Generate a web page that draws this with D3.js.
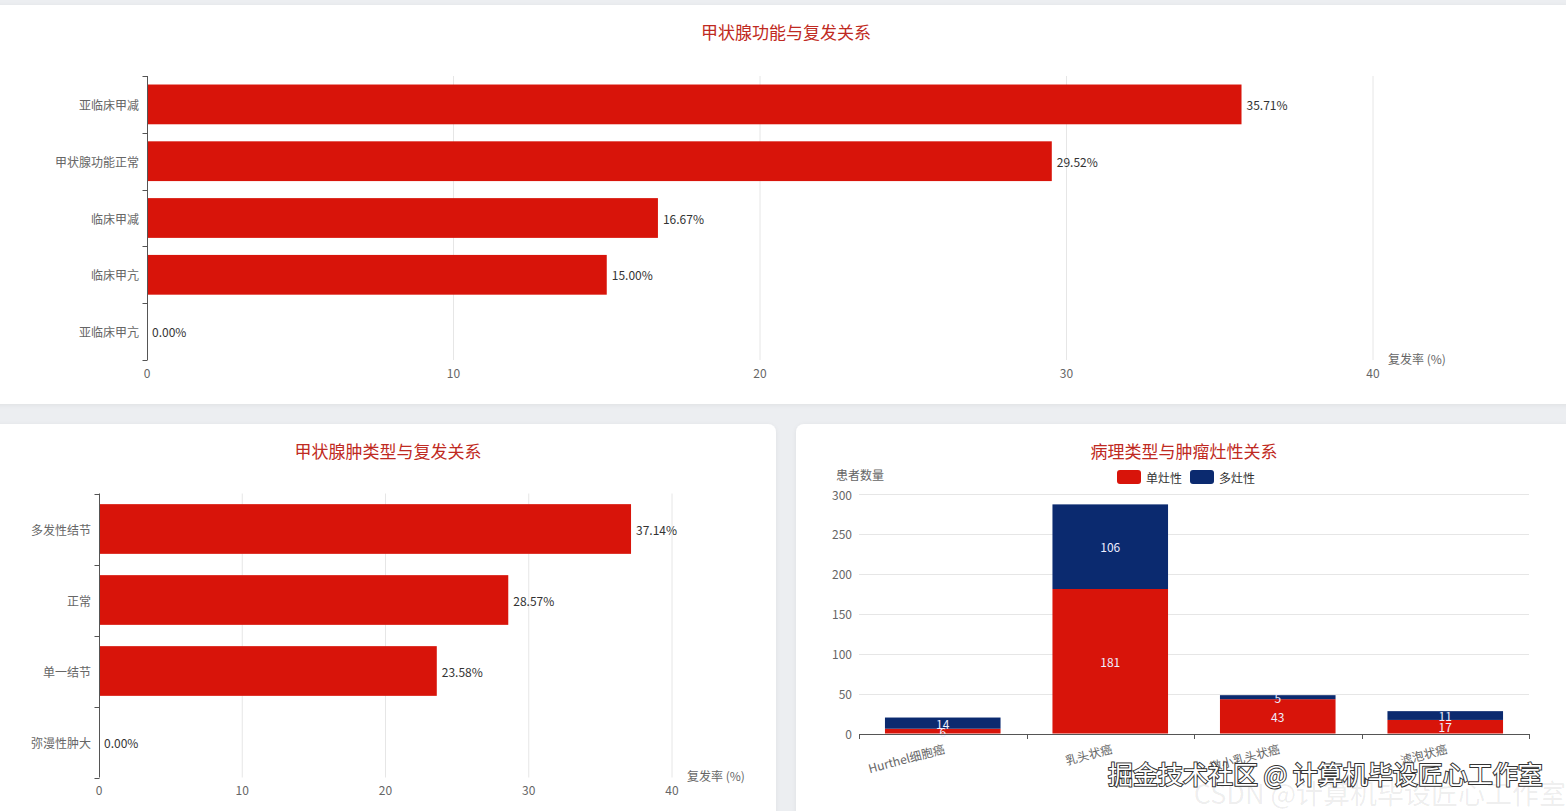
<!DOCTYPE html>
<html><head><meta charset="utf-8">
<script src="https://cdn.jsdelivr.net/npm/d3@7"></script>
<style>
html,body{margin:0;padding:0;background:#eceef1;overflow:hidden;}
svg{display:block;font-family:"Noto Sans CJK SC","Microsoft YaHei",sans-serif;}
</style></head><body>
<svg id="c" width="1566" height="811"></svg>
<script>
// ---- data ----
const funcCategories = ["亚临床甲减","甲状腺功能正常","临床甲减","临床甲亢","亚临床甲亢"];
const funcRates = [35.71, 29.52, 16.67, 15.00, 0.00];
const goiterCategories = ["多发性结节","正常","单一结节","弥漫性肿大"];
const goiterRates = [37.14, 28.57, 23.58, 0.00];
const pathCategories = ["Hurthel细胞癌","乳头状癌","微小乳头状癌","滤泡状癌"];
const unifocal = [6, 181, 43, 17];
const multifocal = [14, 106, 5, 11];
const seriesNames = ["单灶性","多灶性"];
const rateTicks = [0,10,20,30,40];
const countTicks = [0,50,100,150,200,250,300];

const RED = "#d8140a", BLUE = "#0b2a6f", TITLE = "#bf2a22";
const svg = d3.select("#c");

// cards
const defs = svg.append("defs");
const f = defs.append("filter").attr("id","sh").attr("x","-5%").attr("y","-5%").attr("width","110%").attr("height","110%");
f.append("feDropShadow").attr("dx",0).attr("dy",1).attr("stdDeviation",2).attr("flood-color","#000").attr("flood-opacity",0.06);
[[-10,5,1586,399],[-10,424,786,400],[796,424,780,400]].forEach(([x,y,w,h])=>{
  svg.append("rect").attr("x",x).attr("y",y).attr("width",w).attr("height",h).attr("rx",8).attr("fill","#fff").attr("filter","url(#sh)");
});

function title(x,y,t){
  svg.append("text").attr("x",x).attr("y",y).attr("text-anchor","middle").attr("dominant-baseline","central")
    .attr("font-size",17).attr("fill",TITLE).text(t);
}

function hbar(cats, vals, x0, x1, y0, y1, axisName, nameX){
  const x = d3.scaleLinear().domain([0,40]).range([x0,x1]);
  const y = d3.scaleBand().domain(cats).range([y0,y1]).padding(0);
  const g = svg.append("g");
  g.selectAll(".gl").data(rateTicks.slice(1)).join("line")
    .attr("x1",d=>x(d)).attr("x2",d=>x(d)).attr("y1",y0).attr("y2",y1)
    .attr("stroke","#e6e6e6").attr("stroke-width",1);
  g.selectAll(".xl").data(rateTicks).join("text")
    .attr("x",d=>x(d)).attr("y",y1+12).attr("text-anchor","middle").attr("dominant-baseline","central")
    .attr("font-size",12).attr("fill","#666").text(d=>d);
  const bw = y.bandwidth()*0.7;
  g.selectAll(".b").data(cats).join("rect")
    .attr("x",x(0)).attr("y",d=>y(d)+(y.bandwidth()-bw)/2)
    .attr("width",(d,i)=>x(vals[i])-x(0)).attr("height",bw).attr("fill",RED);
  g.selectAll(".vl").data(cats).join("text")
    .attr("x",(d,i)=>x(vals[i])+5).attr("y",d=>y(d)+y.bandwidth()/2).attr("dominant-baseline","central")
    .attr("font-size",12).attr("fill","#333").text((d,i)=>vals[i].toFixed(2)+"%");
  const ag = g.append("g").attr("transform",`translate(${x0},0)`);
  ag.append("line").attr("x1",0.5).attr("x2",0.5).attr("y1",y0).attr("y2",y1).attr("stroke","#555");
  ag.selectAll(".tk").data(d3.range(cats.length+1)).join("line")
    .attr("x1",0.5).attr("x2",-4.5).attr("y1",i=>Math.round(y0+i*y.step())+0.5).attr("y2",i=>Math.round(y0+i*y.step())+0.5)
    .attr("stroke","#555");
  ag.selectAll(".yl").data(cats).join("text")
    .attr("x",-8).attr("y",d=>y(d)+y.bandwidth()/2).attr("text-anchor","end").attr("dominant-baseline","central")
    .attr("font-size",12).attr("fill","#666").text(d=>d);
  g.append("text").attr("x",nameX).attr("y",y1-2).attr("dominant-baseline","central")
    .attr("font-size",12).attr("fill","#666").text(axisName);
}

title(786,31,"甲状腺功能与复发关系");
hbar(funcCategories, funcRates, 147, 1373, 76, 360, "复发率 (%)", 1388);

title(388,450,"甲状腺肿类型与复发关系");
hbar(goiterCategories, goiterRates, 99, 672, 493.5, 777.5, "复发率 (%)", 687);

title(1184,450,"病理类型与肿瘤灶性关系");
(function(){
  const x = d3.scaleBand().domain(pathCategories).range([859,1529]).padding(0);
  const y = d3.scaleLinear().domain([0,300]).range([733.5,494]);
  const g = svg.append("g");
  g.selectAll(".gl").data(countTicks.slice(1)).join("line")
    .attr("x1",859).attr("x2",1529).attr("y1",d=>Math.round(y(d))+0.5).attr("y2",d=>Math.round(y(d))+0.5)
    .attr("stroke","#e6e6e6");
  g.selectAll(".yl").data(countTicks).join("text")
    .attr("x",852).attr("y",d=>y(d)).attr("text-anchor","end").attr("dominant-baseline","central")
    .attr("font-size",12).attr("fill","#666").text(d=>d);
  g.append("text").attr("x",860).attr("y",474).attr("text-anchor","middle").attr("dominant-baseline","central")
    .attr("font-size",12).attr("fill","#666").text("患者数量");
  const bw = x.bandwidth()*0.69;
  const stacks = [unifocal, multifocal];
  const cols = [RED, BLUE];
  stacks.forEach((arr,si)=>{
    const base = pathCategories.map((c,i)=> si===0?0:unifocal[i]);
    g.selectAll(".s"+si).data(pathCategories).join("rect")
      .attr("x",d=>x(d)+(x.bandwidth()-bw)/2).attr("width",bw)
      .attr("y",(d,i)=>y(base[i]+arr[i])).attr("height",(d,i)=>y(base[i])-y(base[i]+arr[i]))
      .attr("fill",cols[si]);
  });
  stacks.forEach((arr,si)=>{
    const base = pathCategories.map((c,i)=> si===0?0:unifocal[i]);
    g.selectAll(".t"+si).data(pathCategories).join("text")
      .attr("x",d=>x(d)+x.bandwidth()/2).attr("y",(d,i)=>y(base[i]+arr[i]/2))
      .attr("text-anchor","middle").attr("dominant-baseline","central")
      .attr("font-size",12).attr("fill","#eef").text((d,i)=>arr[i]);
  });
  g.append("line").attr("x1",859).attr("x2",1529).attr("y1",734.5).attr("y2",734.5).attr("stroke","#555");
  g.selectAll(".xt").data(d3.range(pathCategories.length+1)).join("line")
    .attr("x1",i=>Math.round(859+i*x.step())+0.5).attr("x2",i=>Math.round(859+i*x.step())+0.5)
    .attr("y1",734).attr("y2",739).attr("stroke","#555");
  g.selectAll(".xl").data(pathCategories).join("text")
    .attr("transform",d=>`translate(${x(d)+x.bandwidth()/2},${742}) rotate(-15)`)
    .attr("text-anchor","end").attr("dominant-baseline","hanging")
    .attr("font-size",12).attr("fill","#666").text(d=>d);
  const lg = g.append("g");
  const lx = [1117, 1190];
  seriesNames.forEach((n,i)=>{
    lg.append("rect").attr("x",lx[i]).attr("y",470).attr("width",24).attr("height",14).attr("rx",3).attr("fill",cols[i]);
    lg.append("text").attr("x",lx[i]+29).attr("y",477).attr("dominant-baseline","central")
      .attr("font-size",12).attr("fill","#333").text(n);
  });
})();

// watermarks
svg.append("text").attr("x",1566).attr("y",792).attr("text-anchor","end").attr("dominant-baseline","central")
  .attr("font-size",27).attr("fill","#000").attr("fill-opacity",0.08).text("CSDN @计算机毕设匠心工作室");
svg.append("text").attr("x",1108).attr("y",773).attr("dominant-baseline","central")
  .attr("font-size",25).attr("fill","#fff").attr("stroke","#333").attr("stroke-width",2).attr("paint-order","stroke")
  .text("掘金技术社区 @ 计算机毕设匠心工作室");
</script>
</body></html>
